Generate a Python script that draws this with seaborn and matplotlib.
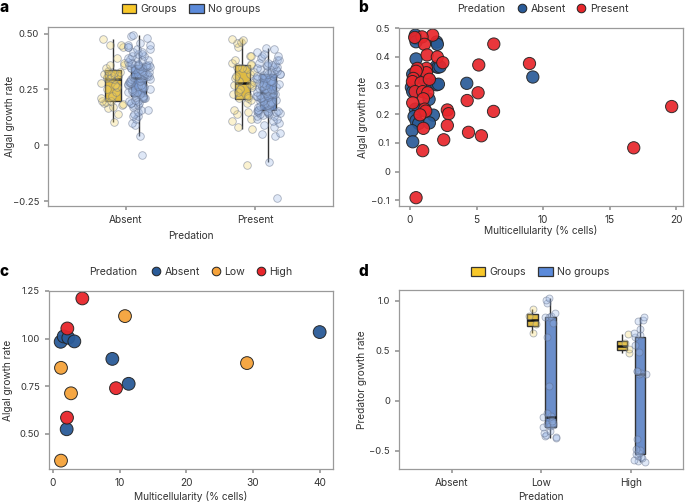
import numpy as np
import pandas as pd
import matplotlib
matplotlib.use("Agg")
import matplotlib.pyplot as plt
import seaborn as sns
from matplotlib.patches import Patch
from matplotlib.lines import Line2D
from matplotlib.colors import to_rgba

# ---------------- data ----------------
pred_a = ["Absent", "Present"]
groups = ["Groups", "No groups"]

a_absent_groups = [0.105, 0.14, 0.165, 0.17, 0.18, 0.185, 0.19, 0.195, 0.198,
                   0.20, 0.21, 0.22, 0.24, 0.25, 0.26, 0.27, 0.28, 0.295,
                   0.30, 0.30, 0.305, 0.31, 0.315, 0.32, 0.325, 0.33, 0.335,
                   0.345, 0.36, 0.36, 0.37, 0.39, 0.44, 0.45, 0.45, 0.476]
a_absent_nogroups = [-0.045, 0.04, 0.09, 0.10, 0.12, 0.13, 0.13, 0.14, 0.15, 0.16, 0.16, 0.17, 0.18,
                     0.18, 0.19, 0.19, 0.19, 0.20, 0.20, 0.205, 0.21, 0.21, 0.21, 0.215, 0.216,
                     0.22, 0.225, 0.23, 0.235, 0.24, 0.24, 0.245, 0.25, 0.25, 0.255, 0.26, 0.26,
                     0.265, 0.27, 0.27, 0.275, 0.28, 0.28, 0.285, 0.29, 0.29, 0.295, 0.295, 0.30, 0.30,
                     0.305, 0.305, 0.31, 0.31, 0.315, 0.32, 0.32, 0.325, 0.33, 0.33, 0.335, 0.34, 0.34,
                     0.345, 0.345, 0.35, 0.35, 0.35, 0.355, 0.355, 0.36, 0.36, 0.36, 0.36, 0.36,
                     0.365, 0.37, 0.37, 0.375, 0.38, 0.38, 0.385, 0.39, 0.39, 0.40, 0.40, 0.41, 0.41,
                     0.42, 0.42, 0.43, 0.43, 0.44, 0.44, 0.45, 0.45, 0.46, 0.48, 0.49, 0.494]
a_present_groups = [-0.09, 0.075, 0.08, 0.11, 0.12, 0.14, 0.15, 0.16, 0.19, 0.205,
                    0.21, 0.21, 0.22, 0.23, 0.24, 0.25, 0.26, 0.27, 0.27, 0.275,
                    0.285, 0.29, 0.30, 0.31, 0.32, 0.33, 0.34, 0.345, 0.35, 0.36,
                    0.365, 0.37, 0.38, 0.40, 0.40, 0.44, 0.46, 0.465, 0.47, 0.475]
a_present_nogroups = [-0.237, -0.075, 0.04, 0.05, 0.055, 0.08, 0.09, 0.10, 0.11, 0.12, 0.12, 0.13, 0.13,
                      0.135, 0.14, 0.14, 0.145, 0.145, 0.15, 0.15, 0.15, 0.155, 0.155, 0.155, 0.156,
                      0.16, 0.165, 0.17, 0.175, 0.18, 0.18, 0.185, 0.19, 0.19, 0.195, 0.20, 0.20,
                      0.205, 0.21, 0.21, 0.215, 0.215, 0.22, 0.22, 0.225, 0.225, 0.23, 0.23, 0.23, 0.234,
                      0.236, 0.24, 0.245, 0.25, 0.25, 0.255, 0.26, 0.26, 0.265, 0.27, 0.275, 0.28, 0.28,
                      0.285, 0.29, 0.29, 0.295, 0.30, 0.30, 0.305, 0.31, 0.31, 0.315, 0.318, 0.318,
                      0.32, 0.325, 0.33, 0.33, 0.335, 0.34, 0.34, 0.345, 0.35, 0.35, 0.355, 0.36, 0.36,
                      0.365, 0.37, 0.37, 0.38, 0.38, 0.39, 0.40, 0.40, 0.41, 0.42, 0.43, 0.437]

b_absent_x = [9.22, 4.26, 0.40, 0.45, 0.45, 2.00, 2.05, 0.45, 1.95, 2.10, 2.25, 0.20, 0.88, 1.10, 1.50,
              1.35, 2.00, 2.13, 0.10, 0.20, 1.43, 0.40, 0.65, 1.75, 0.30, 0.45, 0.65, 1.45, 0.15, 0.20]
b_absent_y = [0.330, 0.308, 0.476, 0.465, 0.453, 0.452, 0.444, 0.393, 0.366, 0.364, 0.366, 0.340, 0.325,
              0.322, 0.316, 0.303, 0.303, 0.305, 0.294, 0.279, 0.252, 0.218, 0.211, 0.197, 0.192, 0.178,
              0.168, 0.170, 0.143, 0.104]
b_present_x = [0.45, 0.95, 6.29, 8.97, 5.16, 5.11, 4.29, 6.27, 4.39, 5.36, 19.65, 16.8, 2.80, 2.90, 2.80,
               2.53, 1.70, 0.90, 1.08, 0.35, 1.28, 2.05, 2.46, 1.23, 1.23, 0.55, 0.45, 0.25, 0.18, 0.83,
               1.45, 0.38, 0.95, 1.33, 1.00, 0.20, 1.10, 1.18, 0.75, 1.00]
b_present_y = [-0.091, 0.073, 0.445, 0.377, 0.372, 0.275, 0.248, 0.210, 0.137, 0.125, 0.227, 0.083, 0.215,
               0.202, 0.161, 0.111, 0.476, 0.470, 0.444, 0.468, 0.407, 0.400, 0.380, 0.360, 0.345, 0.360,
               0.350, 0.325, 0.314, 0.310, 0.322, 0.279, 0.279, 0.275, 0.254, 0.240, 0.218, 0.211, 0.198,
               0.151]

c_absent_x = [1.15, 1.6, 2.3, 3.2, 8.9, 11.35, 40.0, 2.05]
c_absent_y = [0.983, 1.011, 1.004, 0.985, 0.893, 0.762, 1.034, 0.523]
c_low_x = [1.2, 10.8, 29.1, 2.7, 1.2]
c_low_y = [0.846, 1.118, 0.871, 0.712, 0.358]
c_high_x = [4.4, 2.15, 9.45, 2.1]
c_high_y = [1.211, 1.053, 0.739, 0.584]

pred_d = ["Absent", "Low", "High"]
d_low_groups = [0.68, 0.77, 0.85, 0.92]
d_high_groups = [0.48, 0.52, 0.58, 0.67]
d_low_nogroups = [-0.37, -0.36, -0.35, -0.34, -0.32, -0.30, -0.26, -0.25, -0.24, -0.23, -0.22, -0.20,
                  -0.16, -0.15, -0.12, 0.15, 0.64, 0.78, 0.84, 0.845, 0.85, 0.88, 0.98, 1.01, 1.03]
d_high_nogroups = [-0.61, -0.60, -0.59, -0.57, -0.56, -0.55, -0.53, -0.52, -0.49, -0.48, -0.38,
                   0.27, 0.27, 0.28, 0.30, 0.30, 0.49, 0.56, 0.64, 0.66, 0.68, 0.72, 0.80, 0.81, 0.84]

# ---------------- style ----------------
sns.set_theme(style="ticks")
plt.rcParams['font.family'] = ['Inter', 'DejaVu Sans']
TXT = "#333333"
SPINE = "#9a9a9a"
FS = 7.3
plt.rcParams.update({
    "axes.edgecolor": SPINE, "axes.linewidth": 0.9,
    "xtick.color": SPINE, "ytick.color": SPINE,
    "xtick.labelcolor": TXT, "ytick.labelcolor": TXT,
    "xtick.labelsize": FS, "ytick.labelsize": 6.8,
    "xtick.major.size": 3, "ytick.major.size": 3,
    "axes.labelsize": FS, "axes.labelcolor": TXT,
    "axes.unicode_minus": True,
})

YEL, BLU = "#F8C82A", "#5B8ADA"
YEL_L, BLU_L = "#F4D86E", "#9DB9E8"
C_ABS, C_PRES, C_LOW = "#2A5B98", "#E8262B", "#F5A23A"

W, H = 685, 503
fig = plt.figure(figsize=(W / 100, H / 100), dpi=100)

def axbox(l, t, r, b):
    return fig.add_axes([l / W, 1 - b / H, (r - l) / W, (b - t) / H])

ax_a = axbox(48, 27, 333, 206)
ax_b = axbox(399, 28, 683, 206)
ax_c = axbox(49, 291, 333, 469)
ax_d = axbox(399, 290, 683, 469)


def long_df(blocks):
    rows = []
    for cat, grp, vals in blocks:
        for v in vals:
            rows.append((cat, grp, v))
    return pd.DataFrame(rows, columns=["Predation", "Grouping", "rate"])


def box_strip(ax, df, order, size, squeeze):
    sns.boxplot(data=df, x="Predation", y="rate", hue="Grouping", order=order, hue_order=groups,
                palette={"Groups": YEL, "No groups": BLU}, width=0.4, gap=0.4, showfliers=False,
                showcaps=False, linewidth=1.0, linecolor="#333333", whis=1.5,
                medianprops={"color": "#111111", "linewidth": 1.8}, legend=False, ax=ax)
    n0 = len(ax.collections)
    np.random.seed(3)
    sns.stripplot(data=df, x="Predation", y="rate", hue="Grouping", order=order, hue_order=groups,
                  palette={"Groups": YEL_L, "No groups": BLU_L}, dodge=True, jitter=0.38, size=size,
                  edgecolor="#6f7a92", linewidth=0.6, legend=False, ax=ax)
    # tighten the dodge (reference uses narrower spacing) and make points translucent
    for c in ax.collections[n0:]:
        off = np.asarray(c.get_offsets()).copy()
        if off.size == 0:
            continue
        ctr = np.round(off[:, 0])
        hue_ctr = ctr + np.sign(off[:, 0] - ctr) * 0.2
        off[:, 0] = ctr + (hue_ctr - ctr) * 0.5 + (off[:, 0] - hue_ctr) * squeeze
        c.set_offsets(off)
        fcs = c.get_facecolor()
        if len(fcs):
            c.set_facecolor(to_rgba(fcs[0], 0.32))
        c.set_edgecolor(to_rgba("#5f6b85", 0.5))


def labels(ax, xl, yl, W_ax, H_ax, xlab_px, ylab_px):
    ax.set_xlabel(xl)
    ax.set_ylabel(yl)
    ax.xaxis.set_label_coords(0.5, -xlab_px / H_ax)
    ax.yaxis.set_label_coords(-ylab_px / W_ax, 0.5)
    ax.xaxis.label.set_va("center")
    ax.yaxis.label.set_va("center")


# ---------------- panel a ----------------
df_a = long_df([("Absent", "Groups", a_absent_groups), ("Absent", "No groups", a_absent_nogroups),
                ("Present", "Groups", a_present_groups), ("Present", "No groups", a_present_nogroups)])
box_strip(ax_a, df_a, pred_a, 5.5, 0.5)
ax_a.set_xlim(-0.6, 1.6)
ax_a.set_ylim(-0.272, 0.53)
ax_a.set_yticks([-0.25, 0, 0.25, 0.5])
ax_a.set_yticklabels(["\u22120.25", "0", "0.25", "0.50"])
labels(ax_a, "Predation", "Algal growth rate", 285, 179, 30, 38)

# ---------------- panel b ----------------
df_b = pd.DataFrame({
    "x": b_absent_x + b_present_x,
    "y": b_absent_y + b_present_y,
    "Predation": ["Absent"] * len(b_absent_x) + ["Present"] * len(b_present_x),
})
sns.scatterplot(data=df_b, x="x", y="y", hue="Predation", palette={"Absent": C_ABS, "Present": C_PRES},
                s=78, edgecolor="#222222", linewidth=0.7, alpha=0.92, legend=False, ax=ax_b)
ax_b.set_xlim(-0.83, 20.5)
ax_b.set_ylim(-0.12, 0.501)
ax_b.set_xticks([0, 5, 10, 15, 20])
ax_b.set_yticks([-0.1, 0, 0.1, 0.2, 0.3, 0.4, 0.5])
ax_b.set_yticklabels(["\u22120.1", "0", "0.1", "0.2", "0.3", "0.4", "0.5"])
labels(ax_b, "Multicellularity (% cells)", "Algal growth rate", 284, 178, 24, 36)

# ---------------- panel c ----------------
df_c = pd.DataFrame({
    "x": c_absent_x + c_low_x + c_high_x,
    "y": c_absent_y + c_low_y + c_high_y,
    "Predation": ["Absent"] * len(c_absent_x) + ["Low"] * len(c_low_x) + ["High"] * len(c_high_x),
})
sns.scatterplot(data=df_c, x="x", y="y", hue="Predation",
                palette={"Absent": C_ABS, "Low": C_LOW, "High": C_PRES},
                s=85, edgecolor="#222222", linewidth=0.7, alpha=0.95, legend=False, ax=ax_c)
ax_c.set_xlim(-0.6, 42)
ax_c.set_ylim(0.314, 1.25)
ax_c.set_xticks([0, 10, 20, 30, 40])
ax_c.set_yticks([0.5, 0.75, 1.0, 1.25])
ax_c.set_yticklabels(["0.50", "0.75", "1.00", "1.25"])
labels(ax_c, "Multicellularity (% cells)", "Algal growth rate", 284, 178, 28, 41)

# ---------------- panel d ----------------
df_d = long_df([("Low", "Groups", d_low_groups), ("Low", "No groups", d_low_nogroups),
                ("High", "Groups", d_high_groups), ("High", "No groups", d_high_nogroups)])
box_strip(ax_d, df_d, pred_d, 5.0, 0.45)
ax_d.set_xlim(-0.59, 2.58)
ax_d.set_ylim(-0.68, 1.11)
ax_d.set_yticks([-0.5, 0, 0.5, 1.0])
ax_d.set_yticklabels(["\u22120.5", "0", "0.5", "1.0"])
labels(ax_d, "Predation", "Predator growth rate", 284, 179, 28, 37)

for ax in (ax_a, ax_b, ax_c, ax_d):
    for s in ax.spines.values():
        s.set_visible(True)
        s.set_color(SPINE)

# ---------------- legends ----------------
leg_kw = dict(frameon=False, fontsize=FS + 0.3, labelcolor=TXT, handletextpad=0.4, columnspacing=1.1,
              borderpad=0, borderaxespad=0)
box_handles = [Patch(facecolor=YEL, edgecolor="#333333", linewidth=0.9),
               Patch(facecolor=BLU, edgecolor="#333333", linewidth=0.9)]
fig.legend(box_handles, groups, loc="center", bbox_to_anchor=(191 / W, 1 - 9 / H), ncol=2,
           handlelength=1.4, handleheight=0.9, **leg_kw)
fig.legend(box_handles, groups, loc="center", bbox_to_anchor=(540 / W, 1 - 272 / H), ncol=2,
           handlelength=1.4, handleheight=0.9, **leg_kw)


def mk(c):
    return Line2D([], [], marker="o", linestyle="", markersize=6.2, markerfacecolor=c,
                  markeredgecolor="#222222", markeredgewidth=0.7)

fig.legend([mk(C_ABS), mk(C_PRES)], ["Absent", "Present"], loc="center",
           bbox_to_anchor=(573 / W, 1 - 9 / H), ncol=2, handlelength=0.8, **leg_kw)
fig.text(505 / W, 1 - 9 / H, "Predation", ha="right", va="center", fontsize=FS + 0.3, color=TXT)
fig.legend([mk(C_ABS), mk(C_LOW), mk(C_PRES)], ["Absent", "Low", "High"], loc="center",
           bbox_to_anchor=(222 / W, 1 - 272 / H), ncol=3, handlelength=0.8, **leg_kw)
fig.text(137 / W, 1 - 272 / H, "Predation", ha="right", va="center", fontsize=FS + 0.3, color=TXT)

# panel letters
for lab, x, y in [("a", 0, 8), ("b", 358, 8), ("c", 0, 272), ("d", 358, 272)]:
    fig.text(x / W, 1 - y / H, lab, ha="left", va="center", fontsize=11, fontweight="heavy", color="black")

fig.savefig("out.png", dpi=100)
